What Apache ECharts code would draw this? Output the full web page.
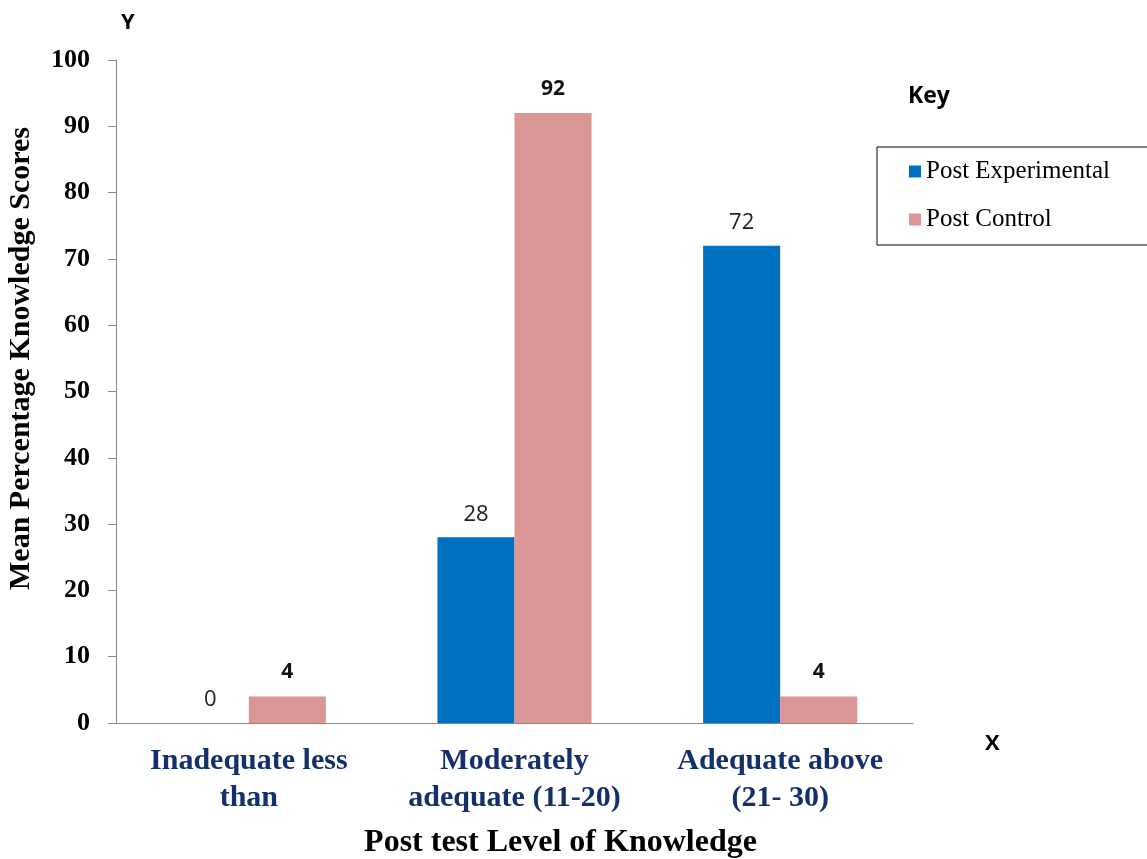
<!DOCTYPE html>
<html>
<head>
<meta charset="utf-8">
<script src="https://cdn.jsdelivr.net/npm/echarts@6/dist/echarts.min.js"></script>
<style>
  html, body { margin: 0; padding: 0; background: #fff; }
  #chart { width: 1147px; height: 859px; }
</style>
</head>
<body>
<div id="chart"></div>
<script>
const categories = ['Inadequate less\nthan', 'Moderately\nadequate (11-20)', 'Adequate above\n(21- 30)']
const postExperimental = [0, 28, 72]
const postControl = [4, 92, 4]

const serif = '"Liberation Serif", "Times New Roman", serif'
const sans = '"Open Sans", "Liberation Sans", sans-serif'

const chart = echarts.init(document.getElementById('chart'))
chart.setOption({
  animation: false,
  grid: {left: 116, right: 234, top: 60, bottom: 136, outerBoundsMode: 'none'},
  legend: {
    orient: 'vertical',
    left: 877,
    top: 147,
    itemWidth: 12,
    itemHeight: 12,
    itemGap: 23,
    borderColor: '#000',
    borderWidth: 1,
    padding: [12, 40, 13, 32],
    icon: 'rect',
    textStyle: {fontFamily: serif, fontSize: 25, color: '#000'}
  },
  graphic: [
    {type: 'text', left: 121, top: 12, style: {text: 'Y', font: 'bold 22px ' + sans, fill: '#000'}},
    {type: 'text', left: 985, top: 733, style: {text: 'X', font: 'bold 22px ' + sans, fill: '#000'}},
    {type: 'text', left: 908, top: 85, style: {text: 'Key', font: 'bold 23px ' + sans, fill: '#000'}}
  ],
  xAxis: {
    type: 'category',
    data: categories,
    name: 'Post test Level of Knowledge',
    nameLocation: 'middle',
    nameGap: 104,
    nameTextStyle: {fontFamily: serif, fontWeight: 'bold', fontSize: 32, color: '#000', padding: [0, 0, 0, 92]},
    axisLine: {lineStyle: {color: '#888'}},
    axisTick: {length: 10, lineStyle: {color: '#888'}},
    axisLabel: {
      margin: 20,
      interval: 0,
      fontFamily: serif,
      fontWeight: 'bold',
      fontSize: 30,
      lineHeight: 37,
      color: '#13306A'
    }
  },
  yAxis: {
    type: 'value',
    min: 0,
    max: 100,
    interval: 10,
    name: 'Mean Percentage Knowledge Scores',
    nameLocation: 'middle',
    nameRotate: 90,
    nameGap: 80,
    nameTextStyle: {fontFamily: serif, fontWeight: 'bold', fontSize: 30, color: '#000', padding: [0, 0, 0, 66]},
    splitLine: {show: false},
    axisLine: {show: true, lineStyle: {color: '#888'}},
    axisTick: {show: true, length: 8, lineStyle: {color: '#888'}},
    axisLabel: {margin: 26, fontFamily: serif, fontWeight: 'bold', fontSize: 26, color: '#000'}
  },
  series: [
    {
      name: 'Post Experimental',
      type: 'bar',
      data: postExperimental,
      barGap: '0%',
      barCategoryGap: '42%',
      itemStyle: {color: '#0070C0'},
      label: {show: true, position: 'top', distance: 12, fontFamily: sans, fontSize: 22, color: '#222'}
    },
    {
      name: 'Post Control',
      type: 'bar',
      data: postControl,
      barGap: '0%',
      barCategoryGap: '42%',
      itemStyle: {color: '#D99694'},
      label: {show: true, position: 'top', distance: 14, fontFamily: sans, fontWeight: 'bold', fontSize: 21, color: '#111'}
    }
  ]
})
</script>
</body>
</html>
